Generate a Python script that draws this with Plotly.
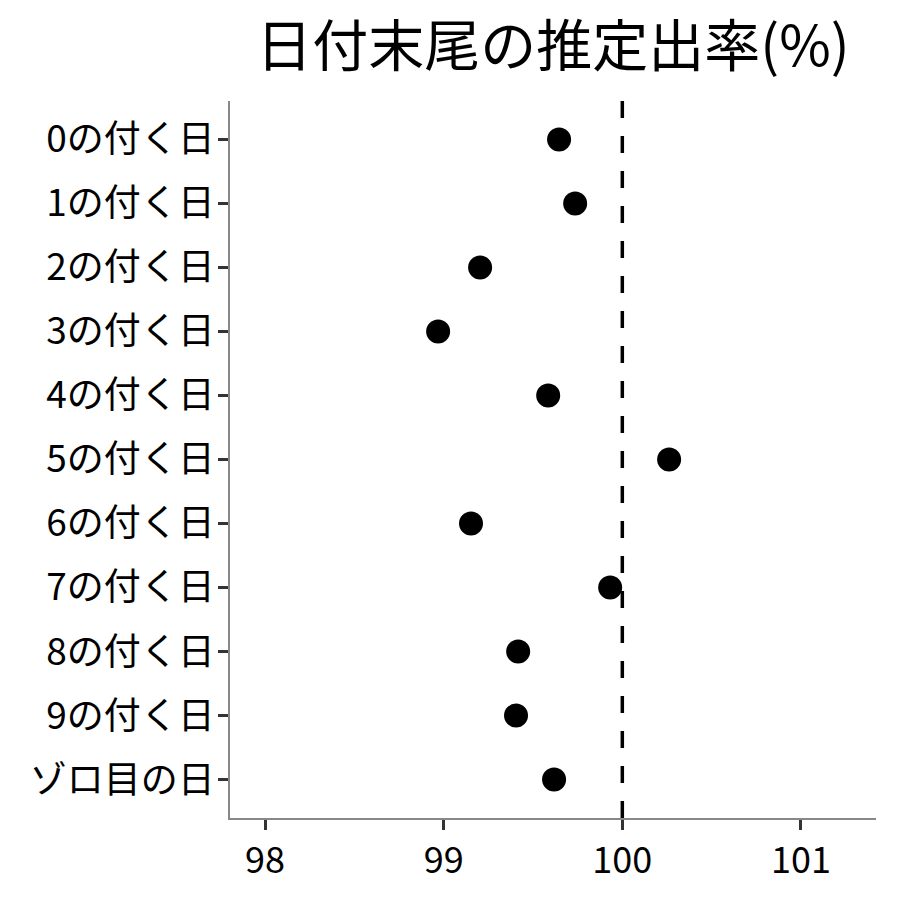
import plotly.graph_objects as go

categories = ["0の付く日", "1の付く日", "2の付く日", "3の付く日", "4の付く日",
              "5の付く日", "6の付く日", "7の付く日", "8の付く日", "9の付く日", "ゾロ目の日"]
values = [99.646, 99.736, 99.204, 98.969, 99.585, 100.262, 99.153, 99.932, 99.417, 99.405, 99.618]
x_ticks = [98, 99, 100, 101]
ref_value = 100

font = "Noto Sans CJK JP"

fig = go.Figure()
fig.add_trace(go.Scatter(
    x=values, y=categories, mode="markers",
    marker=dict(color="black", size=24),
    showlegend=False,
))
fig.add_shape(type="line", x0=ref_value, x1=ref_value, y0=0, y1=1, yref="paper", xref="x",
              line=dict(color="black", width=3.5, dash="17px,18px"))

fig.update_layout(
    width=900, height=900,
    paper_bgcolor="white", plot_bgcolor="white",
    margin=dict(l=222, r=32, t=93, b=90),
    title=dict(text="日付末尾の推定出率(%)", x=0.5, xref="paper", xanchor="center",
               y=0.957, yanchor="middle",
               font=dict(family=font, size=56, color="black")),
    font=dict(family=font, color="black"),
)
fig.update_xaxes(
    range=[97.804, 101.42], tickvals=x_ticks, ticktext=[str(t) for t in x_ticks],
    showline=True, linecolor="#888888", linewidth=1.5, showgrid=False, zeroline=False,
    ticks="outside", ticklen=10, tickwidth=2.5, tickcolor="#333333",
    tickfont=dict(family=font, size=36, color="black"),
)
fig.update_yaxes(
    categoryorder="array", categoryarray=categories, autorange=False, range=[10.6, -0.6],
    showline=True, linecolor="#888888", linewidth=1.5, showgrid=False, zeroline=False,
    ticks="outside", ticklen=10, tickwidth=2.5, tickcolor="#333333",
    tickfont=dict(family=font, size=37, color="black"),
    ticklabelstandoff=-4,
)
fig.write_html("out.html")
